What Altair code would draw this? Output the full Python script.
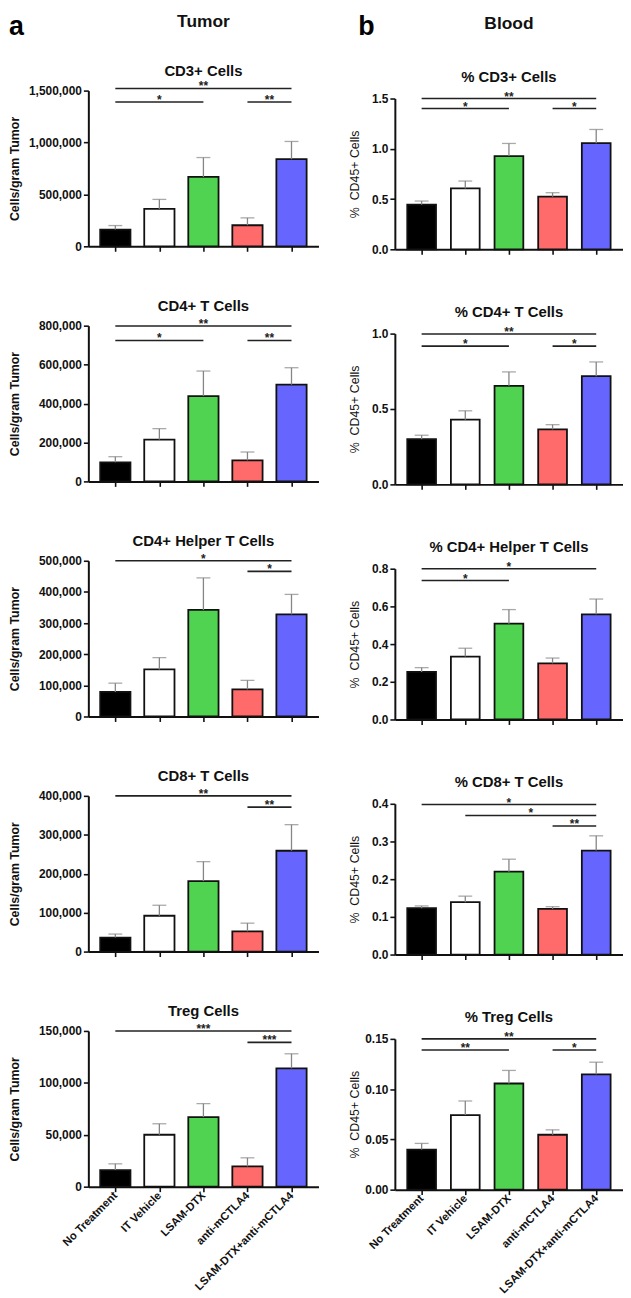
import altair as alt
import pandas as pd

FONT = "Liberation Sans"

groups = ["No Treatment", "IT Vehicle", "LSAM-DTX", "anti-mCTLA4", "LSAM-DTX+anti-mCTLA4"]
bar_colors = ["#000000", "#ffffff", "#50d350", "#ff6a6a", "#6666ff"]
positions = [0, 1, 2, 3, 4]

# ---------------- Tumor (cells / gram tumor) ----------------
tumor_titles = ["CD3+ Cells", "CD4+ T Cells", "CD4+ Helper T Cells", "CD8+ T Cells", "Treg Cells"]

cd3_tumor_mean = [161000, 361000, 668000, 203000, 839000]
cd3_tumor_sem = [39000, 91000, 187000, 71000, 171000]
cd3_tumor_ticks = [0, 500000, 1000000, 1500000]
cd3_tumor_sig = [(0, 4, 1520000, "**"), (0, 2, 1390000, "*"), (3, 4, 1390000, "**")]

cd4_tumor_mean = [98000, 215000, 438000, 108000, 497000]
cd4_tumor_sem = [29000, 56000, 129000, 43000, 87000]
cd4_tumor_ticks = [0, 200000, 400000, 600000, 800000]
cd4_tumor_sig = [(0, 4, 798000, "**"), (0, 2, 724000, "*"), (3, 4, 724000, "**")]

th_tumor_mean = [79000, 151000, 342000, 87000, 328000]
th_tumor_sem = [28000, 38000, 103000, 29000, 64000]
th_tumor_ticks = [0, 100000, 200000, 300000, 400000, 500000]
th_tumor_sig = [(0, 4, 500000, "*"), (3, 4, 466000, "*")]

cd8_tumor_mean = [36000, 92000, 181000, 52000, 259000]
cd8_tumor_sem = [9000, 27000, 50000, 21000, 67000]
cd8_tumor_ticks = [0, 100000, 200000, 300000, 400000]
cd8_tumor_sig = [(0, 4, 400000, "**"), (3, 4, 371000, "**")]

treg_tumor_mean = [16000, 50000, 67000, 19500, 114000]
treg_tumor_sem = [6000, 10600, 13000, 8300, 14000]
treg_tumor_ticks = [0, 50000, 100000, 150000]
treg_tumor_sig = [(0, 4, 150000, "***"), (3, 4, 139000, "***")]

# ---------------- Blood (% of CD45+ cells) ----------------
blood_titles = ["% CD3+ Cells", "% CD4+ T Cells", "% CD4+ Helper T Cells", "% CD8+ T Cells", "% Treg Cells"]

cd3_blood_mean = [0.444, 0.606, 0.927, 0.523, 1.056]
cd3_blood_sem = [0.036, 0.073, 0.126, 0.040, 0.136]
cd3_blood_ticks = [0.0, 0.5, 1.0, 1.5]
cd3_blood_sig = [(0, 4, 1.5, "**"), (0, 2, 1.40, "*"), (3, 4, 1.40, "*")]

cd4_blood_mean = [0.300, 0.429, 0.654, 0.365, 0.718]
cd4_blood_sem = [0.026, 0.059, 0.092, 0.031, 0.094]
cd4_blood_ticks = [0.0, 0.5, 1.0]
cd4_blood_sig = [(0, 4, 0.997, "**"), (0, 2, 0.917, "*"), (3, 4, 0.917, "*")]

th_blood_mean = [0.252, 0.334, 0.508, 0.298, 0.558]
th_blood_sem = [0.023, 0.044, 0.075, 0.028, 0.081]
th_blood_ticks = [0.0, 0.2, 0.4, 0.6, 0.8]
th_blood_sig = [(0, 4, 0.8, "*"), (0, 2, 0.737, "*")]

cd8_blood_mean = [0.123, 0.139, 0.220, 0.121, 0.276]
cd8_blood_sem = [0.006, 0.016, 0.033, 0.006, 0.039]
cd8_blood_ticks = [0.0, 0.1, 0.2, 0.3, 0.4]
cd8_blood_sig = [(0, 4, 0.398, "*"), (1, 4, 0.369, "*"), (3, 4, 0.341, "**")]

treg_blood_mean = [0.0399, 0.0742, 0.1056, 0.0546, 0.1147]
treg_blood_sem = [0.0061, 0.0140, 0.0130, 0.0049, 0.0121]
treg_blood_ticks = [0.00, 0.05, 0.10, 0.15]
treg_blood_sig = [(0, 4, 0.15, "**"), (0, 2, 0.139, "**"), (3, 4, 0.139, "*")]

LEFT_W, RIGHT_W = 232, 230
LEFT_H, RIGHT_H = 157, 160
RIGHT_TOP = 8

label_expr = "[" + ",".join("'%s'" % g for g in groups) + "][datum.value]"


def panel(title, means, sems, sig, ticks, fmt, ytitle, left, bottom, header=None, letter=None):
    w = LEFT_W if left else RIGHT_W
    h = LEFT_H if left else RIGHT_H
    yrange = [h, 0] if left else [h, RIGHT_TOP]
    bar_size = 30.5 if left else 29
    df = pd.DataFrame({"pos": positions, "group": groups, "mean": means, "sem": sems})
    sig_df = pd.DataFrame(sig, columns=["start", "end", "y", "label"])

    xscale = alt.Scale(domain=[-0.5, 4.5], nice=False, zero=False)
    yscale = alt.Scale(domain=[0, ticks[-1]], nice=False, zero=True, range=yrange)

    xaxis = alt.Axis(
        values=positions, labels=bottom, labelExpr=label_expr, labelAngle=-45,
        labelAlign="right", labelBaseline="middle", labelFont=FONT,
        labelFontWeight="bold", labelFontSize=11.3, labelColor="#111",
        labelPadding=2, labelOverlap=False, labelFlush=False, labelBound=False,
        tickSize=5, tickWidth=1.6, tickColor="#111",
        domainColor="#111", domainWidth=2, grid=False, title=None,
    )
    yaxis = alt.Axis(
        values=ticks, format=fmt, labelFont=FONT, labelFontWeight="bold",
        labelFontSize=12, labelColor="#111", labelPadding=2,
        labelOverlap=False, labelFlush=False,
        tickSize=5, tickWidth=1.6, tickColor="#111",
        domainColor="#111", domainWidth=2, grid=False,
        title=ytitle, titleFont=FONT, titleFontSize=12.5,
        titleFontWeight="bold" if left else "normal", titleColor="#111",
        titleX=-67 if left else -34,
        titleY=h / 2 if left else (h + RIGHT_TOP) / 2,
    )

    def X(field):
        return alt.X(field, scale=xscale, axis=xaxis, title=None)

    def Y(field):
        return alt.Y(field, scale=yscale, axis=yaxis, title=ytitle)

    bars = alt.Chart(df).mark_bar(
        orient="vertical", size=bar_size, stroke="#111", strokeWidth=1.8
    ).encode(
        x=X("pos:Q"),
        y=Y("mean:Q"),
        color=alt.Color("group:N", scale=alt.Scale(domain=groups, range=bar_colors), legend=None),
    )
    err = alt.Chart(df).transform_calculate(
        top="datum.mean + datum.sem"
    ).mark_rule(color="#858585", strokeWidth=1.3).encode(
        x=X("pos:Q"),
        y=Y("mean:Q"),
        y2="top:Q",
    )
    cap = alt.Chart(df).transform_calculate(
        top="datum.mean + datum.sem"
    ).mark_tick(orient="horizontal", size=14, thickness=1.3, color="#858585").encode(
        x=X("pos:Q"),
        y=Y("top:Q"),
    )
    rules = alt.Chart(sig_df).mark_rule(color="#222", strokeWidth=1.6).encode(
        x=X("start:Q"),
        x2="end:Q",
        y=Y("y:Q"),
    )
    stars = alt.Chart(sig_df).transform_calculate(
        mid="(datum.start + datum.end) / 2"
    ).mark_text(
        font=FONT, fontWeight="bold", fontSize=12, baseline="alphabetic", dy=2, color="#222"
    ).encode(
        x=X("mid:Q"),
        y=Y("y:Q"),
        text="label:N",
    )
    ttl = alt.Chart(pd.DataFrame({"t": [title]})).mark_text(
        font=FONT, fontWeight="bold", fontSize=15, baseline="middle", align="center", color="#111"
    ).encode(
        x=alt.value(w / 2),
        y=alt.value(-20 if left else RIGHT_TOP - 22),
        text="t:N",
    )
    layers = [bars, err, cap, rules, stars, ttl]
    if header is not None:
        layers.append(
            alt.Chart(pd.DataFrame({"t": [header]})).mark_text(
                font=FONT, fontWeight="bold", fontSize=17.5, baseline="middle", align="center", color="#111"
            ).encode(x=alt.value(w / 2), y=alt.value(-69 if left else -67), text="t:N")
        )
    if letter is not None:
        layers.append(
            alt.Chart(pd.DataFrame({"t": [letter]})).mark_text(
                font=FONT, fontWeight="bold", fontSize=27, baseline="alphabetic", align="left", color="#000"
            ).encode(x=alt.value(-80 if left else -37), y=alt.value(-56), text="t:N")
        )
    return alt.layer(*layers).properties(width=w, height=h)


tumor_means = [cd3_tumor_mean, cd4_tumor_mean, th_tumor_mean, cd8_tumor_mean, treg_tumor_mean]
tumor_sems = [cd3_tumor_sem, cd4_tumor_sem, th_tumor_sem, cd8_tumor_sem, treg_tumor_sem]
tumor_ticks = [cd3_tumor_ticks, cd4_tumor_ticks, th_tumor_ticks, cd8_tumor_ticks, treg_tumor_ticks]
tumor_sigs = [cd3_tumor_sig, cd4_tumor_sig, th_tumor_sig, cd8_tumor_sig, treg_tumor_sig]

blood_means = [cd3_blood_mean, cd4_blood_mean, th_blood_mean, cd8_blood_mean, treg_blood_mean]
blood_sems = [cd3_blood_sem, cd4_blood_sem, th_blood_sem, cd8_blood_sem, treg_blood_sem]
blood_ticks = [cd3_blood_ticks, cd4_blood_ticks, th_blood_ticks, cd8_blood_ticks, treg_blood_ticks]
blood_sigs = [cd3_blood_sig, cd4_blood_sig, th_blood_sig, cd8_blood_sig, treg_blood_sig]
blood_formats = [".1f", ".1f", ".1f", ".1f", ".2f"]

panels = []
for i in range(5):
    last = i == 4
    panels.append(panel(
        tumor_titles[i], tumor_means[i], tumor_sems[i], tumor_sigs[i], tumor_ticks[i], ",.0f",
        "Cells/gram Tumor", True, last,
        header="Tumor" if i == 0 else None, letter="a" if i == 0 else None,
    ))
    panels.append(panel(
        blood_titles[i], blood_means[i], blood_sems[i], blood_sigs[i], blood_ticks[i], blood_formats[i],
        "%\u00a0\u00a0CD45+ Cells", False, last,
        header="Blood" if i == 0 else None, letter="b" if i == 0 else None,
    ))

chart = alt.concat(
    *panels, columns=2, bounds="flush", spacing={"row": 77, "column": 77}
).properties(
    padding={"left": 0, "top": 0, "right": 0, "bottom": 0}
).configure(font=FONT).configure_view(stroke=None)

chart.save("out.html", embed_options={"renderer": "svg", "actions": False})
